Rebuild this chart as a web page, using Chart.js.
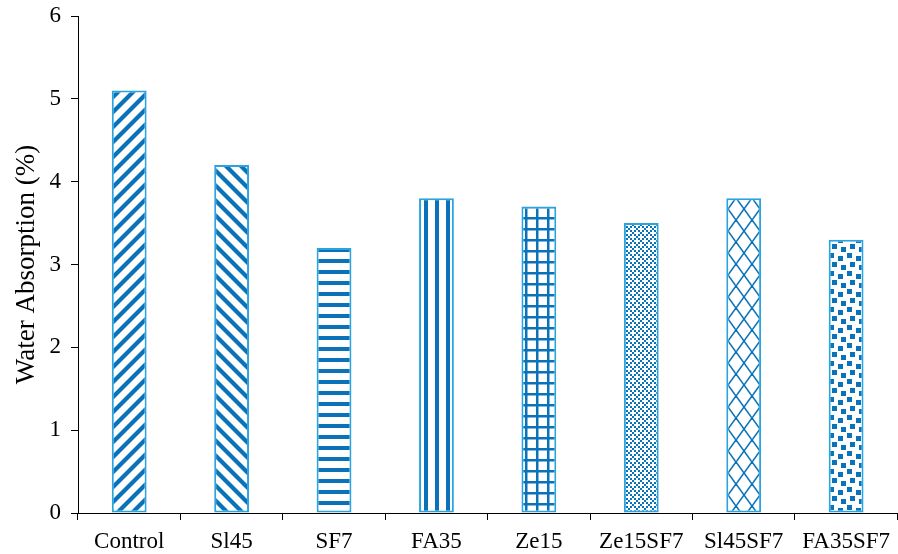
<!DOCTYPE html>
<html>
<head>
<meta charset="utf-8">
<script src="https://cdn.jsdelivr.net/npm/chart.js@4"></script>
<style>
  html, body { margin: 0; padding: 0; background: #fff; }
  #wrap { width: 898px; height: 554px; }
</style>
</head>
<body>
<div id="wrap"><canvas id="chart"></canvas></div>
<script>
const categories = ['Control', 'Sl45', 'SF7', 'FA35', 'Ze15', 'Ze15SF7', 'Sl45SF7', 'FA35SF7']
const absorption = [5.1, 4.2, 3.2, 3.8, 3.7, 3.5, 3.8, 3.3]
const yTicks = [0, 1, 2, 3, 4, 5, 6]

const ink = '#0A72B9'
const edge = '#2AA3DF'
const ctx = document.getElementById('chart').getContext('2d')

// small tile canvases, one per Excel-like fill
function tile(w, h, draw) {
  const c = document.createElement('canvas')
  c.width = w
  c.height = h
  const t = c.getContext('2d')
  t.fillStyle = '#fff'
  t.fillRect(0, 0, w, h)
  t.fillStyle = ink
  t.strokeStyle = ink
  draw(t, w, h)
  return ctx.createPattern(c, 'repeat')
}

function diag(up) {
  return tile(15, 15, (t, w, h) => {
    t.lineWidth = 4.2
    for (let k = -1; k <= 1; k++) {
      t.beginPath()
      if (up) { t.moveTo(k * w - 5, h + 5); t.lineTo(k * w + w + 5, -5) }
      else { t.moveTo(k * w - 5, -5); t.lineTo(k * w + w + 5, h + 5) }
      t.stroke()
    }
  })
}

const patterns = [
  diag(true),
  diag(false),
  tile(11, 11, (t) => t.fillRect(0, 6, 11, 4)),
  tile(11, 11, (t) => t.fillRect(6, 0, 4, 11)),
  tile(11, 11, (t) => { t.fillRect(0, 8, 11, 2.5); t.fillRect(8, 0, 2.5, 11) }),
  tile(8, 8, (t) => {
    t.fillRect(0, 0, 2, 2); t.fillRect(4, 4, 2, 2)
    t.fillRect(2, 2, 2, 2); t.fillRect(6, 6, 2, 2)
    t.fillRect(6, 2, 2, 2); t.fillRect(2, 6, 2, 2)
  }),
  tile(16, 22, (t, w, h) => {
    t.lineWidth = 1.6
    t.beginPath(); t.moveTo(-2, -2.75); t.lineTo(w + 2, h + 2.75); t.stroke()
    t.beginPath(); t.moveTo(w + 2, -2.75); t.lineTo(-2, h + 2.75); t.stroke()
  }),
  tile(18, 18, (t) => {
    t.fillRect(1, 1, 5, 5); t.fillRect(10, 4, 5, 5)
    t.fillRect(4, 10, 5, 5); t.fillRect(13, 13, 5, 5)
  })
]

const family = '"Liberation Serif", "Times New Roman", serif'
const tickFont = { family, size: 23 }
const titleFont = { family, size: 27 }

new Chart(ctx, {
  type: 'bar',
  data: {
    labels: categories,
    datasets: [{
      data: absorption,
      backgroundColor: patterns,
      borderColor: edge,
      borderWidth: 2,
      borderSkipped: false,
      barPercentage: 0.34,
      categoryPercentage: 1
    }]
  },
  options: {
    responsive: true,
    maintainAspectRatio: false,
    animation: false,
    layout: { padding: 0 },
    plugins: { legend: { display: false }, tooltip: { enabled: false } },
    scales: {
      x: {
        grid: { offset: true, drawOnChartArea: false, tickLength: 7, color: '#000' },
        border: { color: '#000', width: 1 },
        ticks: { color: '#000', font: tickFont, padding: 8, maxRotation: 0, autoSkip: false },
        afterFit: (s) => { s.height = 41 }
      },
      y: {
        min: 0,
        max: 6,
        afterBuildTicks: (s) => { s.ticks = yTicks.map(v => ({ value: v })) },
        grid: { drawOnChartArea: false, tickLength: 7, color: '#000' },
        border: { color: '#000', width: 1 },
        ticks: { color: '#000', font: tickFont, padding: 10 },
        title: { display: true, text: 'Water Absorption (%)', color: '#000', font: titleFont, padding: { top: 11, bottom: 0 } },
        afterFit: (s) => { s.width = 78; s.paddingTop = 16 }
      }
    }
  }
})
</script>
</body>
</html>
